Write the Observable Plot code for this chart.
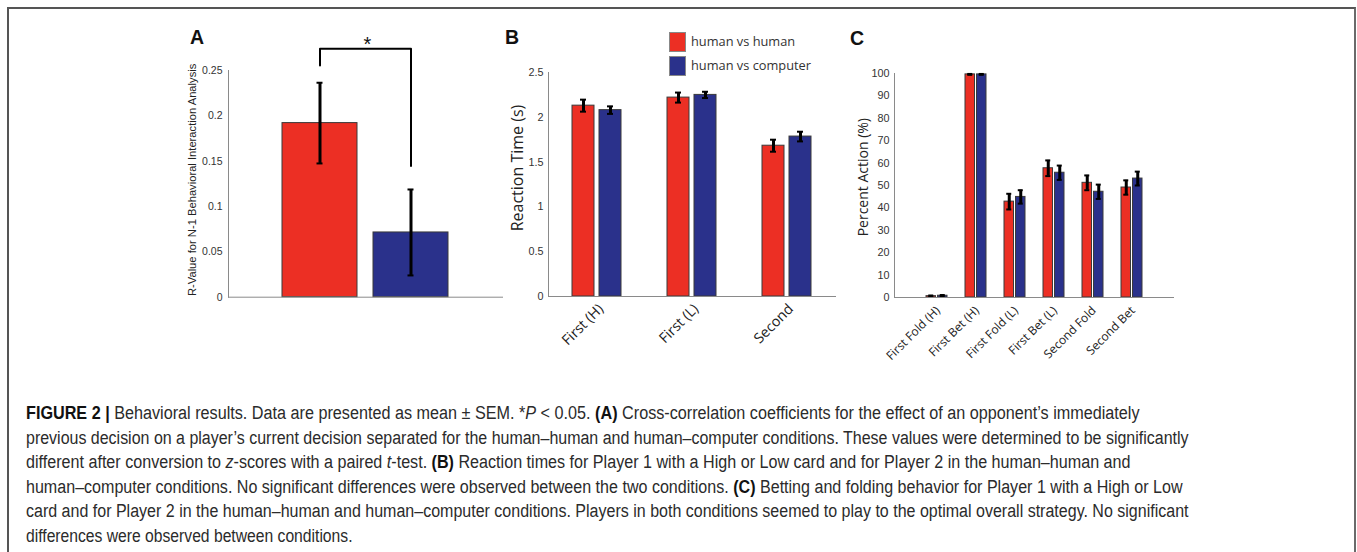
<!DOCTYPE html>
<html><head><meta charset="utf-8">
<script src="https://cdn.jsdelivr.net/npm/d3@7"></script>
<script src="https://cdn.jsdelivr.net/npm/@observablehq/plot@0.6"></script>
<style>
html,body{margin:0;padding:0;background:#fff;}
body{width:1357px;height:552px;overflow:hidden;position:relative;font-family:"Liberation Sans",Arial,sans-serif;}
#frame{position:absolute;left:7px;top:7px;width:1345px;height:600px;border-left:2px solid #555;border-top:2px solid #555;border-right:2px solid #6a6a6a;box-sizing:content-box;}
.panel{position:absolute;}
.letter{position:absolute;font-weight:bold;font-size:19.5px;color:#111;font-family:"Liberation Sans",Arial,sans-serif;line-height:22px;}
.leg-sw{position:absolute;width:15px;height:18px;border:1px solid #888;}
.leg-tx{position:absolute;font-family:"Open Sans",sans-serif;font-size:12.8px;color:#333;white-space:nowrap;line-height:19px;}
#caption{position:absolute;left:25.5px;top:401px;font-family:"Liberation Sans Narrow","Liberation Sans",Arial,sans-serif;font-size:18px;line-height:24.5px;color:#2b2b2b;white-space:nowrap;}
#caption .ln{display:inline-block;transform-origin:0 0;}
#caption b{font-weight:bold;color:#111;}
</style></head><body>
<div id="frame"></div>
<div class="letter" style="left:190px;top:26px">A</div>
<div class="letter" style="left:505px;top:26px">B</div>
<div class="letter" style="left:850px;top:27px">C</div>
<div id="pA" class="panel" style="left:150px;top:20px"></div>
<div id="pB" class="panel" style="left:490px;top:20px"></div>
<div id="pC" class="panel" style="left:830px;top:20px"></div>
<div id="legend"></div>
<div id="caption">
<div><span class="ln"><b>FIGURE 2 |</b> Behavioral results. Data are presented as mean ± SEM. *<i>P</i> &lt; 0.05. <b>(A)</b> Cross-correlation coefficients for the effect of an opponent’s immediately</span></div>
<div><span class="ln">previous decision on a player’s current decision separated for the human–human and human–computer conditions. These values were determined to be significantly</span></div>
<div><span class="ln">different after conversion to <i>z</i>-scores with a paired <i>t</i>-test. <b>(B)</b> Reaction times for Player 1 with a High or Low card and for Player 2 in the human–human and</span></div>
<div><span class="ln">human–computer conditions. No significant differences were observed between the two conditions. <b>(C)</b> Betting and folding behavior for Player 1 with a High or Low</span></div>
<div><span class="ln">card and for Player 2 in the human–human and human–computer conditions. Players in both conditions seemed to play to the optimal overall strategy. No significant</span></div>
<div><span class="ln">differences were observed between conditions.</span></div>
</div>
<script>
// ---------- data ----------
const seriesColors = ["#ec2f24", "#2a318b"];
const legendLabels = ["human vs human", "human vs computer"];

// Panel A
const groupsA = ["human vs human", "human vs computer"];
const valuesA = [0.192, 0.0714];
const semA = [0.0445, 0.0474];
const sigBracketX = ["human vs human", "human vs human", "human vs computer", "human vs computer"];
const sigBracketY = [0.2555, 0.274, 0.274, 0.1446];
const sigLabel = "*";
const sigLabelY = 0.2785;
const yLabelA = "R-Value for N-1 Behavioral Interaction Analysis";

// Panel B
const catsB = ["First (H)", "First (L)", "Second"];
const hhB = [2.13, 2.22, 1.683];
const hhSemB = [0.067, 0.056, 0.067];
const hcB = [2.08, 2.25, 1.785];
const hcSemB = [0.042, 0.035, 0.054];
const yTicksB = [0, 0.5, 1, 1.5, 2, 2.5];
const yLabelB = "Reaction Time (s)";

// Panel C
const catsC = ["First Fold (H)", "First Bet (H)", "First Fold (L)", "First Bet (L)", "Second Fold", "Second Bet"];
const hhC = [0.6, 99.6, 42.8, 57.7, 51.2, 49.1];
const hhSemC = [0.3, 0.2, 3.5, 3.5, 3.3, 3.2];
const hcC = [0.8, 99.6, 44.9, 55.7, 47.2, 53.1];
const hcSemC = [0.3, 0.2, 3.0, 3.2, 3.2, 3.1];
const yTicksC = [0, 10, 20, 30, 40, 50, 60, 70, 80, 90, 100];
const yLabelC = "Percent Action (%)";

// ---------- styles ----------
const axisStroke = "#8a8a8a";
const barStroke = "#3a3a3a";
const tickFont = "Liberation Sans, Arial, sans-serif";
const labelFont = "Open Sans, sans-serif";

// Panel A
{
  const rows = groupsA.map((g, i) => ({g, v: valuesA[i], e: semA[i]}));
  const bracket = sigBracketX.map((x, i) => ({x, y: sigBracketY[i]}));
  const W = 360, H = 300, ml = 78, mr = 8, mt = 50, mb = 23.3;
  const fw = W - ml - mr, slots = 3, step = fw / slots, bw = 75, p = 1 - bw / step;
  const capW = 6, capIn = (bw - capW) / 2;
  const chart = Plot.plot({
    width: W, height: H, marginLeft: ml, marginRight: mr, marginTop: mt, marginBottom: mb,
    style: {fontFamily: tickFont, overflow: "visible", background: "transparent"},
    x: {type: "band", domain: groupsA, range: [ml + 0.5 * step, ml + fw - 0.5 * step], paddingInner: p, paddingOuter: p / 2, axis: null},
    y: {domain: [0, 0.25], axis: null, label: null},
    color: {domain: groupsA, range: seriesColors},
    marks: [
      Plot.barY(rows, {x: "g", y: "v", fill: "g", stroke: barStroke, strokeWidth: 1}),
      Plot.ruleX(rows, {x: "g", y1: d => d.v - d.e, y2: d => d.v + d.e, stroke: "#000", strokeWidth: 3}),
      Plot.tickY(rows, {x: "g", y: d => d.v + d.e, insetLeft: capIn, insetRight: capIn, stroke: "#000", strokeWidth: 2}),
      Plot.tickY(rows, {x: "g", y: d => d.v - d.e, insetLeft: capIn, insetRight: capIn, stroke: "#000", strokeWidth: 2}),
      Plot.frame({anchor: "left", stroke: axisStroke}),
      Plot.frame({anchor: "bottom", stroke: axisStroke}),
      Plot.axisY({ticks: [0, 0.05, 0.1, 0.15, 0.2, 0.25], tickSize: 0, tickPadding: 6, tickFormat: d3.format("~g"), fontSize: 10.5, fontFamily: tickFont, fill: "#333", label: null}),
      Plot.line(bracket, {x: "x", y: "y", stroke: "#000", strokeWidth: 2}),
      Plot.text([sigLabel], {text: d => d, frameAnchor: "middle", y: () => sigLabelY, dx: 2, lineAnchor: "middle", textAnchor: "middle", fontSize: 20, fontFamily: tickFont, fill: "#111"}),
      Plot.text([yLabelA], {text: d => d, frameAnchor: "left", textAnchor: "middle", rotate: -90, dx: -36.3, dy: -4, fontSize: 11.2, fontFamily: tickFont, fill: "#222"})
    ]
  });
  document.getElementById("pA").append(chart);
}

function grouped(cats, hh, hhSem, hc, hcSem, o) {
  const rows = cats.map((c, i) => ({c, hh: hh[i], hhe: hhSem[i], hc: hc[i], hce: hcSem[i]}));
  const fw = o.W - o.ml - o.mr, step = fw / o.slots, p = 1 - o.bw / step;
  const r0 = o.ml + (o.slots - cats.length) / 2 * step;
  const off = (o.bw - o.w) / 2;
  const capIn = o.w / 2 - o.cap / 2, capOut = o.bw - o.w / 2 - o.cap / 2;
  const err = (key, ekey, dx) => Plot.ruleX(rows, {x: "c", y1: d => d[key] - d[ekey], y2: d => d[key] + d[ekey], dx, stroke: "#000", strokeWidth: o.ew});
  const cap = (key, ekey, sign, l, r) => Plot.tickY(rows, {x: "c", y: d => d[key] + sign * d[ekey], insetLeft: l, insetRight: r, stroke: "#000", strokeWidth: 2});
  return Plot.plot({
    width: o.W, height: o.H, marginLeft: o.ml, marginRight: o.mr, marginTop: o.mt, marginBottom: o.mb,
    style: {fontFamily: tickFont, overflow: "visible", background: "transparent"},
    x: {type: "band", domain: cats, range: [r0, o.W - o.mr - (r0 - o.ml)], paddingInner: p, paddingOuter: p / 2, label: null},
    y: {domain: o.yDomain, label: null},
    marks: [
      Plot.barY(rows, {x: "c", y: "hh", fill: seriesColors[0], stroke: barStroke, strokeWidth: 1, insetRight: o.bw - o.w}),
      Plot.barY(rows, {x: "c", y: "hc", fill: seriesColors[1], stroke: barStroke, strokeWidth: 1, insetLeft: o.bw - o.w}),
      err("hh", "hhe", -off), err("hc", "hce", off),
      cap("hh", "hhe", 1, capIn, capOut), cap("hh", "hhe", -1, capIn, capOut),
      cap("hc", "hce", 1, capOut, capIn), cap("hc", "hce", -1, capOut, capIn),
      Plot.frame({anchor: "left", stroke: axisStroke}),
      Plot.frame({anchor: "bottom", stroke: axisStroke}),
      Plot.axisY({ticks: o.yTicks, tickSize: 0, tickPadding: 5, tickFormat: d3.format("~g"), fontSize: 10.8, fontFamily: tickFont, fill: "#333", label: null}),
      Plot.axisX({tickRotate: -45, tickSize: 0, tickPadding: o.xPad, dx: o.xDx, dy: o.xDy, fontSize: o.xFont, fontFamily: labelFont, fill: "#222", label: null}),
      Plot.text([o.yLabel], {text: d => d, frameAnchor: "left", textAnchor: "middle", rotate: -90, dx: o.ylDx, dy: o.ylDy, fontSize: o.ylSize, fontFamily: labelFont, fill: "#222"})
    ]
  });
}

document.getElementById("pB").append(grouped(catsB, hhB, hhSemB, hcB, hcSemB, {
  W: 360, H: 360, ml: 58, mr: 15, mt: 52, mb: 84, slots: 3, bw: 49, w: 22, cap: 6, ew: 3,
  yDomain: [0, 2.5], yTicks: yTicksB, xPad: 8, xDx: 4, xDy: 2, xFont: 14.3, yLabel: yLabelB, ylDx: -31, ylDy: -16.5, ylSize: 16
}));
document.getElementById("pC").append(grouped(catsC, hhC, hhSemC, hcC, hcSemC, {
  W: 360, H: 360, ml: 64, mr: 17, mt: 53, mb: 83, slots: 7, bw: 21, w: 9.5, cap: 5, ew: 3,
  yDomain: [0, 100], yTicks: yTicksC, xPad: 9, xDx: 1, xDy: 2, xFont: 12, yLabel: yLabelC, ylDx: -31, ylDy: -8.3, ylSize: 14
}));

// legend (panel B)
{
  const leg = document.getElementById("legend");
  legendLabels.forEach((t, i) => {
    const sw = document.createElement("div");
    sw.className = "leg-sw";
    sw.style.left = "669px"; sw.style.top = (32 + i * 24.3) + "px"; sw.style.background = seriesColors[i];
    const tx = document.createElement("div");
    tx.className = "leg-tx";
    tx.style.left = "691px"; tx.style.top = (32 + i * 24.3) + "px";
    tx.textContent = t;
    leg.append(sw, tx);
  });
}

// caption: fit each line to the reference's line length
{
  const lineEnds = [1139, 1188, 1130, 1182, 1188, 352];
  const left = 25.5;
  document.querySelectorAll("#caption .ln").forEach((el, i) => {
    const w = el.getBoundingClientRect().width;
    if (w > 0) el.style.transform = `scaleX(${(lineEnds[i] - left) / w})`;
  });
}
</script>
</body></html>
